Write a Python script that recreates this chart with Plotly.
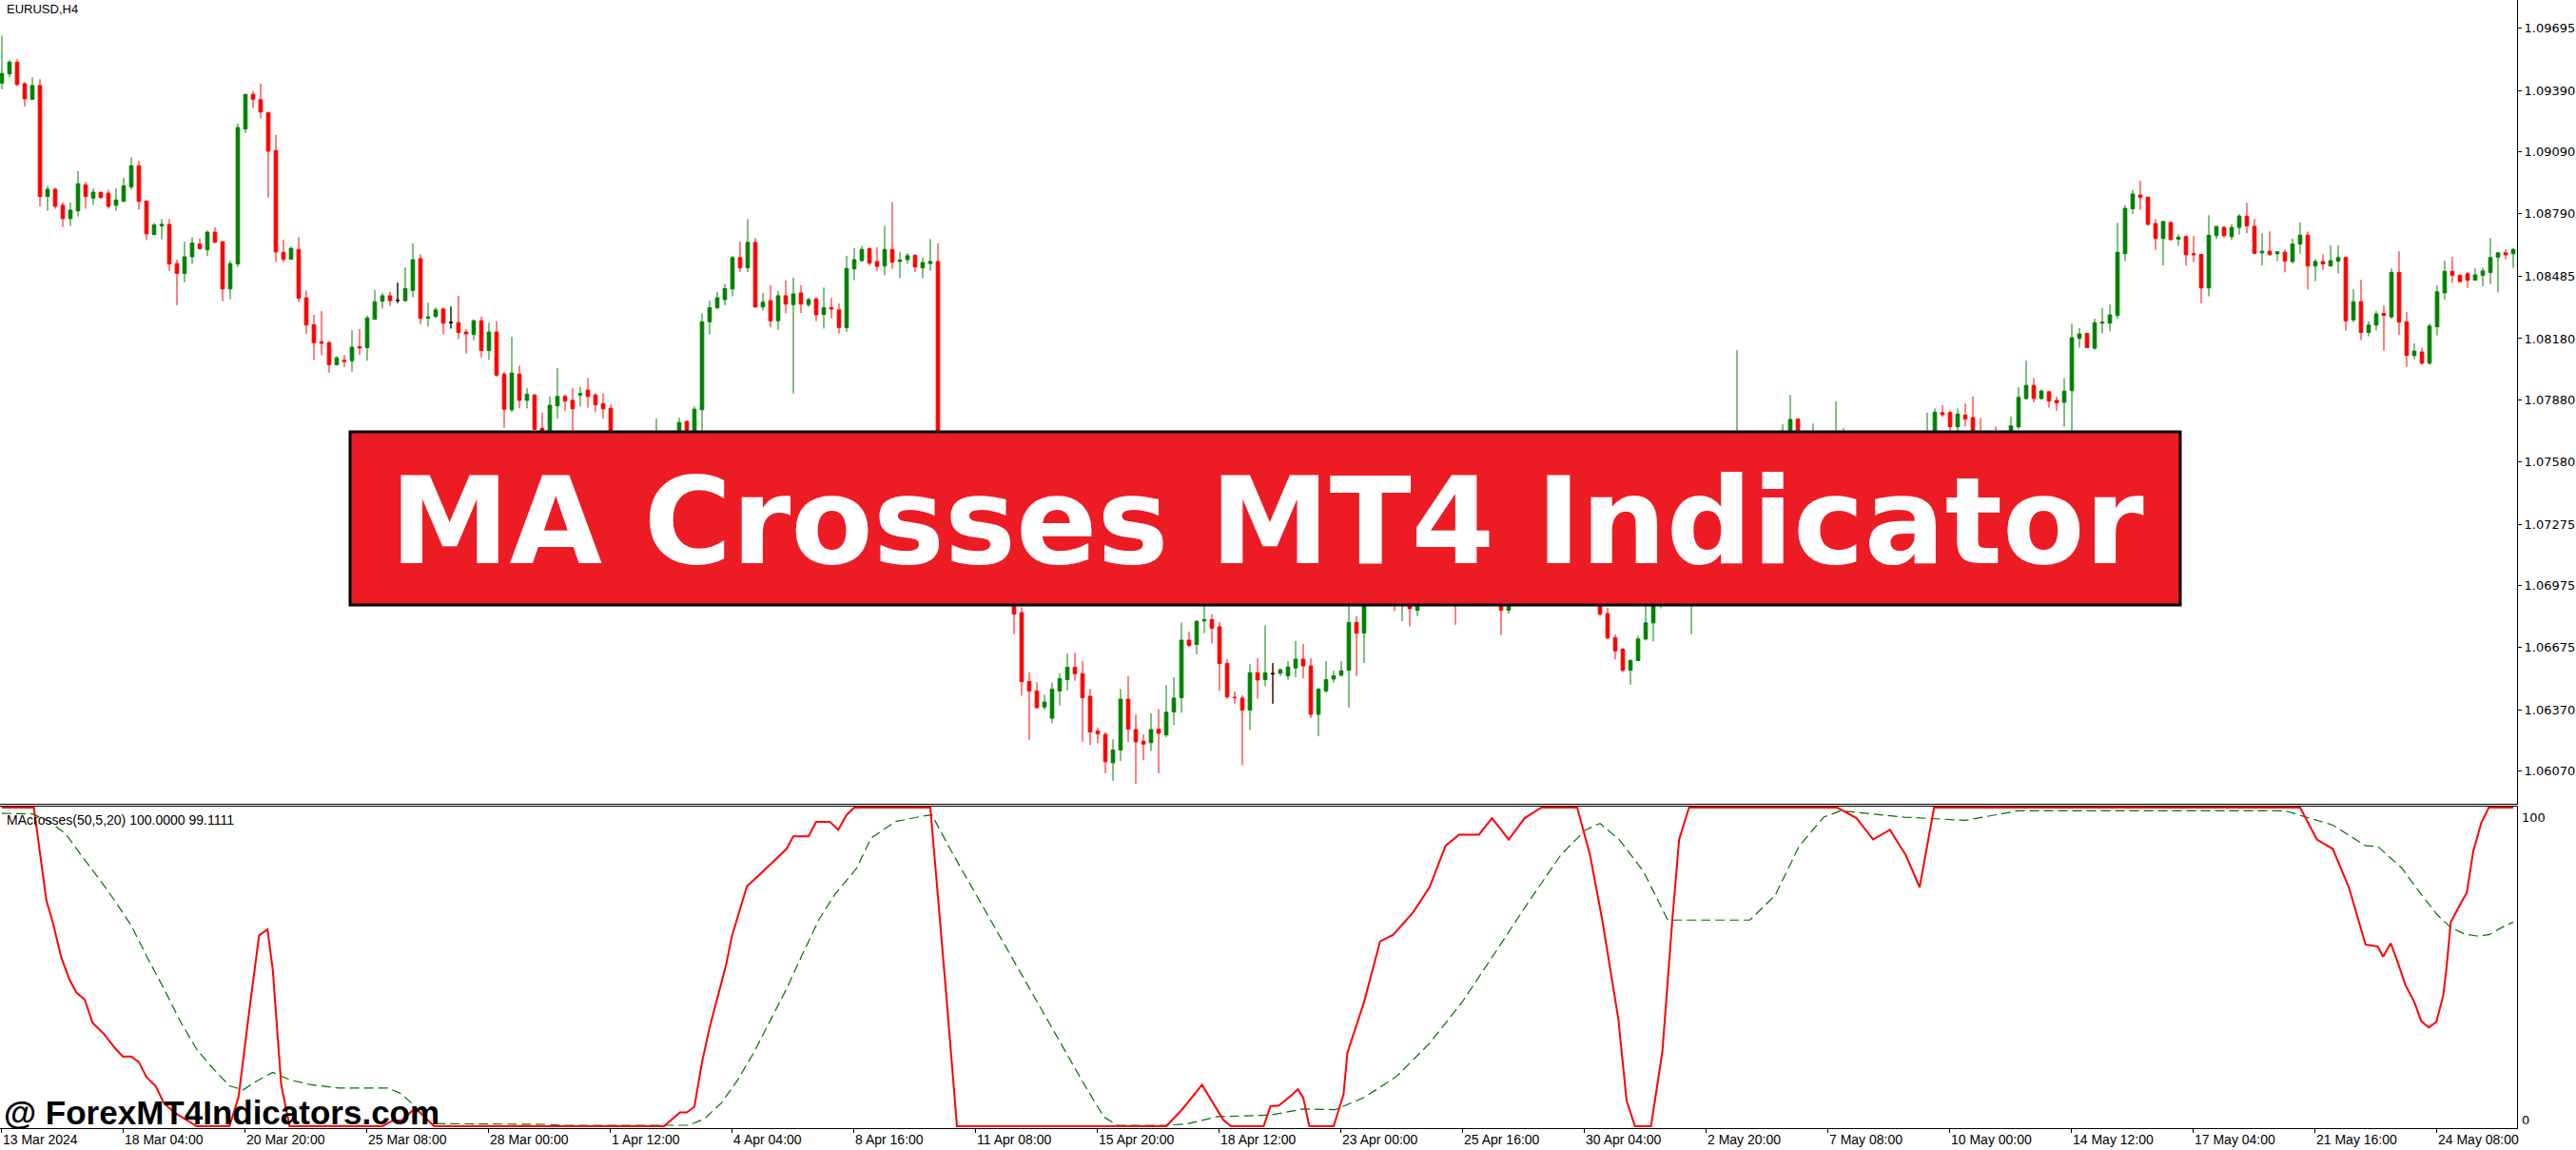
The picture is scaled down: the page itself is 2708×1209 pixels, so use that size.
import plotly.graph_objects as go

W, H = 2708, 1209
ML, MR, MT, MB = 0, 62, 0, 23
PW, PH = W - ML - MR, H - MT - MB

def px_x(x):
    return x / PW

def px_y(y):
    return (PH - y) / PH

# ---------------- price data (EURUSD H4) ----------------
bars = list(range(331))

open_ = [
 1.09426, 1.09471, 1.09528, 1.09423, 1.09347, 1.09414, 1.08873, 1.08908, 1.08830, 1.08765,
 1.08803, 1.08930, 1.08865, 1.08892, 1.08889, 1.08830, 1.08849, 1.08920, 1.09023, 1.08851,
 1.08687, 1.08730, 1.08737, 1.08546, 1.08498, 1.08579, 1.08641, 1.08613, 1.08699, 1.08653,
 1.08422, 1.08544, 1.09202, 1.09371, 1.09345, 1.09283, 1.09097, 1.08601, 1.08567, 1.08615,
 1.08379, 1.08248, 1.08165, 1.08160, 1.08053, 1.08074, 1.08072, 1.08141, 1.08136, 1.08274,
 1.08362, 1.08389, 1.08367, 1.08365, 1.08415, 1.08570, 1.08279, 1.08288, 1.08324, 1.08258,
 1.08258, 1.08212, 1.08200, 1.08267, 1.08122, 1.08212, 1.08007, 1.07833, 1.08007, 1.07879,
 1.07905, 1.07743, 1.07700, 1.07852, 1.07898, 1.07879, 1.07905, 1.07929, 1.07905, 1.07862,
 1.07840, 1.07630, 1.07560, 1.07480, 1.07550, 1.07500, 1.07600, 1.07680, 1.07620, 1.07660,
 1.07776, 1.07690, 1.07833, 1.08262, 1.08331, 1.08370, 1.08422, 1.08575, 1.08525, 1.08649,
 1.08334, 1.08365, 1.08267, 1.08389, 1.08346, 1.08403, 1.08346, 1.08374, 1.08298, 1.08331,
 1.08320, 1.08234, 1.08520, 1.08560, 1.08618, 1.08556, 1.08534, 1.08615, 1.08556, 1.08565,
 1.08587, 1.08525, 1.08546, 1.08556, 1.07350, 1.07220, 1.07150, 1.07200, 1.07160, 1.07060,
 1.07120, 1.07080, 1.07020, 1.07000, 1.06844, 1.06508, 1.06462, 1.06384, 1.06329, 1.06462,
 1.06517, 1.06577, 1.06546, 1.06436, 1.06267, 1.06250, 1.06112, 1.06174, 1.06422, 1.06274,
 1.06217, 1.06210, 1.06276, 1.06248, 1.06360, 1.06429, 1.06710, 1.06689, 1.06803, 1.06810,
 1.06775, 1.06596, 1.06431, 1.06427, 1.06369, 1.06551, 1.06517, 1.06546, 1.06548, 1.06536,
 1.06574, 1.06617, 1.06584, 1.06348, 1.06462, 1.06520, 1.06539, 1.06563, 1.06796, 1.06744,
 1.06920, 1.06960, 1.06930, 1.06990, 1.06900, 1.06950, 1.06856, 1.06950, 1.07020, 1.07060,
 1.07010, 1.06980, 1.06950, 1.07000, 1.07050, 1.07030, 1.06990, 1.06980, 1.06856, 1.06960,
 1.07020, 1.07090, 1.07150, 1.07120, 1.07170, 1.07130, 1.07080, 1.07030, 1.06990, 1.06940,
 1.06920, 1.06839, 1.06722, 1.06665, 1.06563, 1.06610, 1.06715, 1.06794, 1.06920, 1.06960,
 1.07010, 1.06990, 1.06930, 1.07060, 1.07120, 1.07220, 1.07300, 1.07380, 1.07440, 1.07560,
 1.07480, 1.07550, 1.07640, 1.07600, 1.07650, 1.07700, 1.07788, 1.07700, 1.07650, 1.07700,
 1.07660, 1.07620, 1.07700, 1.07640, 1.07600, 1.07650, 1.07620, 1.07580, 1.07610, 1.07660,
 1.07640, 1.07670, 1.07690, 1.07680, 1.07710, 1.07819, 1.07819, 1.07750, 1.07807, 1.07795,
 1.07700, 1.07640, 1.07680, 1.07650, 1.07700, 1.07750, 1.07888, 1.07952, 1.07888, 1.07921,
 1.07879, 1.07869, 1.07926, 1.08181, 1.08205, 1.08133, 1.08255, 1.08255, 1.08293, 1.08594,
 1.08813, 1.08880, 1.08870, 1.08741, 1.08668, 1.08746, 1.08665, 1.08677, 1.08594, 1.08591,
 1.08427, 1.08682, 1.08722, 1.08677, 1.08722, 1.08777, 1.08727, 1.08598, 1.08606, 1.08594,
 1.08601, 1.08556, 1.08641, 1.08684, 1.08534, 1.08556, 1.08534, 1.08558, 1.08575, 1.08272,
 1.08360, 1.08210, 1.08246, 1.08303, 1.08286, 1.08503, 1.08262, 1.08098, 1.08115, 1.08060,
 1.08238, 1.08403, 1.08508, 1.08489, 1.08496, 1.08465, 1.08489, 1.08503, 1.08577, 1.08598,
 1.08594,
]

high = [
 1.09657, 1.09538, 1.09543, 1.09430, 1.09454, 1.09445, 1.08925, 1.08916, 1.08844, 1.08844,
 1.08997, 1.08944, 1.08913, 1.08899, 1.08906, 1.08913, 1.08963, 1.09063, 1.09047, 1.08851,
 1.08744, 1.08763, 1.08763, 1.08565, 1.08653, 1.08675, 1.08668, 1.08708, 1.08722, 1.08653,
 1.08560, 1.09228, 1.09371, 1.09388, 1.09423, 1.09283, 1.09173, 1.08663, 1.08629, 1.08675,
 1.08415, 1.08296, 1.08315, 1.08169, 1.08095, 1.08100, 1.08222, 1.08227, 1.08293, 1.08417,
 1.08403, 1.08408, 1.08453, 1.08527, 1.08644, 1.08591, 1.08355, 1.08334, 1.08331, 1.08336,
 1.08389, 1.08227, 1.08274, 1.08286, 1.08258, 1.08265, 1.08019, 1.08188, 1.08048, 1.07938,
 1.07909, 1.07819, 1.07898, 1.08036, 1.07909, 1.07938, 1.07945, 1.07988, 1.07914, 1.07914,
 1.07859, 1.07700, 1.07650, 1.07600, 1.07620, 1.07680, 1.07790, 1.07710, 1.07731, 1.07795,
 1.07781, 1.07850, 1.08303, 1.08365, 1.08408, 1.08446, 1.08584, 1.08653, 1.08763, 1.08670,
 1.08403, 1.08441, 1.08413, 1.08463, 1.08477, 1.08441, 1.08379, 1.08381, 1.08429, 1.08379,
 1.08351, 1.08584, 1.08622, 1.08632, 1.08625, 1.08625, 1.08730, 1.08846, 1.08603, 1.08598,
 1.08587, 1.08575, 1.08665, 1.08645, 1.07450, 1.07300, 1.07260, 1.07280, 1.07220, 1.07180,
 1.07200, 1.07150, 1.07100, 1.07050, 1.06870, 1.06553, 1.06505, 1.06443, 1.06503, 1.06548,
 1.06644, 1.06648, 1.06608, 1.06472, 1.06284, 1.06260, 1.06226, 1.06472, 1.06534, 1.06348,
 1.06250, 1.06353, 1.06374, 1.06491, 1.06529, 1.06796, 1.06751, 1.06808, 1.06880, 1.06837,
 1.06799, 1.06617, 1.06460, 1.06441, 1.06594, 1.06622, 1.06782, 1.06598, 1.06572, 1.06608,
 1.06706, 1.06691, 1.06622, 1.06479, 1.06608, 1.06560, 1.06608, 1.06900, 1.06827, 1.06960,
 1.07000, 1.07050, 1.07020, 1.07050, 1.06980, 1.07000, 1.07000, 1.07050, 1.07100, 1.07120,
 1.07080, 1.07030, 1.07040, 1.07080, 1.07110, 1.07090, 1.07060, 1.07020, 1.07010, 1.07050,
 1.07120, 1.07180, 1.07220, 1.07200, 1.07230, 1.07190, 1.07150, 1.07100, 1.07060, 1.07010,
 1.06950, 1.06868, 1.06737, 1.06672, 1.06617, 1.06732, 1.06880, 1.06960, 1.07000, 1.07050,
 1.07080, 1.07060, 1.07100, 1.07150, 1.07250, 1.07350, 1.07420, 1.07480, 1.08124, 1.07731,
 1.07600, 1.07680, 1.07700, 1.07690, 1.07762, 1.07905, 1.07790, 1.07720, 1.07766, 1.07720,
 1.07710, 1.07874, 1.07743, 1.07700, 1.07680, 1.07710, 1.07680, 1.07650, 1.07690, 1.07710,
 1.07700, 1.07720, 1.07720, 1.07819, 1.07840, 1.07855, 1.07830, 1.07840, 1.07864, 1.07898,
 1.07793, 1.07710, 1.07752, 1.07733, 1.07800, 1.07943, 1.08072, 1.07988, 1.07933, 1.07924,
 1.07898, 1.07988, 1.08253, 1.08231, 1.08207, 1.08277, 1.08329, 1.08346, 1.08744, 1.08830,
 1.08904, 1.08949, 1.08870, 1.08763, 1.08751, 1.08753, 1.08689, 1.08684, 1.08680, 1.08591,
 1.08782, 1.08727, 1.08730, 1.08739, 1.08787, 1.08842, 1.08763, 1.08694, 1.08703, 1.08606,
 1.08615, 1.08668, 1.08746, 1.08701, 1.08567, 1.08591, 1.08634, 1.08634, 1.08579, 1.08420,
 1.08467, 1.08265, 1.08315, 1.08341, 1.08522, 1.08606, 1.08310, 1.08157, 1.08136, 1.08253,
 1.08439, 1.08560, 1.08579, 1.08491, 1.08505, 1.08522, 1.08525, 1.08670, 1.08603, 1.08615,
 1.08620,
]

low = [
 1.09395, 1.09454, 1.09411, 1.09311, 1.09347, 1.08825, 1.08803, 1.08813, 1.08725, 1.08730,
 1.08775, 1.08813, 1.08832, 1.08863, 1.08813, 1.08803, 1.08849, 1.08906, 1.08808, 1.08660,
 1.08687, 1.08665, 1.08510, 1.08343, 1.08455, 1.08544, 1.08617, 1.08582, 1.08644, 1.08362,
 1.08372, 1.08529, 1.09183, 1.09304, 1.09254, 1.08868, 1.08553, 1.08553, 1.08567, 1.08358,
 1.08203, 1.08076, 1.08098, 1.08014, 1.08048, 1.08041, 1.08019, 1.08100, 1.08072, 1.08274,
 1.08327, 1.08339, 1.08353, 1.08360, 1.08382, 1.08250, 1.08238, 1.08279, 1.08200, 1.08229,
 1.08177, 1.08107, 1.08172, 1.08088, 1.08076, 1.07993, 1.07745, 1.07821, 1.07840, 1.07840,
 1.07733, 1.07650, 1.07620, 1.07790, 1.07826, 1.07726, 1.07848, 1.07843, 1.07821, 1.07790,
 1.07600, 1.07520, 1.07430, 1.07400, 1.07440, 1.07460, 1.07550, 1.07580, 1.07560, 1.07620,
 1.07660, 1.07650, 1.07700, 1.08200, 1.08322, 1.08343, 1.08386, 1.08505, 1.08505, 1.08331,
 1.08317, 1.08234, 1.08222, 1.08303, 1.07912, 1.08305, 1.08334, 1.08265, 1.08229, 1.08279,
 1.08205, 1.08212, 1.08465, 1.08556, 1.08536, 1.08510, 1.08489, 1.08520, 1.08475, 1.08544,
 1.08505, 1.08475, 1.08510, 1.07300, 1.07180, 1.07100, 1.07080, 1.07120, 1.07020, 1.07000,
 1.07040, 1.06980, 1.06960, 1.06739, 1.06439, 1.06224, 1.06374, 1.06369, 1.06305, 1.06391,
 1.06465, 1.06512, 1.06214, 1.06198, 1.06207, 1.06060, 1.06024, 1.06121, 1.06212, 1.06009,
 1.06124, 1.06169, 1.06060, 1.06236, 1.06296, 1.06355, 1.06677, 1.06641, 1.06744, 1.06694,
 1.06462, 1.06422, 1.06400, 1.06100, 1.06272, 1.06424, 1.06486, 1.06400, 1.06534, 1.06517,
 1.06529, 1.06524, 1.06329, 1.06241, 1.06453, 1.06503, 1.06532, 1.06381, 1.06534, 1.06598,
 1.06890, 1.06900, 1.06890, 1.06851, 1.06803, 1.06777, 1.06827, 1.06900, 1.06960, 1.06990,
 1.06940, 1.06784, 1.06910, 1.06950, 1.06990, 1.06960, 1.06930, 1.06734, 1.06839, 1.06920,
 1.06980, 1.07040, 1.07080, 1.07050, 1.07090, 1.07040, 1.07000, 1.06960, 1.06920, 1.06900,
 1.06827, 1.06715, 1.06615, 1.06553, 1.06493, 1.06610, 1.06708, 1.06703, 1.06865, 1.06910,
 1.06950, 1.06920, 1.06739, 1.07010, 1.07080, 1.07180, 1.07250, 1.07320, 1.07400, 1.07420,
 1.07430, 1.07500, 1.07560, 1.07540, 1.07600, 1.07650, 1.07640, 1.07600, 1.07610, 1.07620,
 1.07580, 1.07580, 1.07590, 1.07570, 1.07540, 1.07590, 1.07550, 1.07520, 1.07560, 1.07600,
 1.07580, 1.07610, 1.07630, 1.07640, 1.07680, 1.07797, 1.07726, 1.07700, 1.07750, 1.07650,
 1.07600, 1.07580, 1.07600, 1.07610, 1.07660, 1.07738, 1.07881, 1.07869, 1.07881, 1.07843,
 1.07828, 1.07750, 1.07726, 1.08136, 1.08136, 1.08126, 1.08205, 1.08215, 1.08277, 1.08558,
 1.08787, 1.08808, 1.08730, 1.08613, 1.08536, 1.08656, 1.08632, 1.08536, 1.08553, 1.08353,
 1.08386, 1.08665, 1.08672, 1.08660, 1.08687, 1.08694, 1.08591, 1.08536, 1.08582, 1.08558,
 1.08503, 1.08546, 1.08594, 1.08420, 1.08460, 1.08515, 1.08532, 1.08498, 1.08219, 1.08260,
 1.08172, 1.08191, 1.08219, 1.08122, 1.08277, 1.08198, 1.08043, 1.08079, 1.08053, 1.08053,
 1.08196, 1.08370, 1.08453, 1.08455, 1.08427, 1.08465, 1.08436, 1.08446, 1.08405, 1.08567,
 1.08525,
]

close = [
 1.09473, 1.09528, 1.09419, 1.09349, 1.09414, 1.08873, 1.08908, 1.08825, 1.08765, 1.08806,
 1.08935, 1.08873, 1.08894, 1.08868, 1.08825, 1.08856, 1.08925, 1.09023, 1.08849, 1.08691,
 1.08734, 1.08737, 1.08544, 1.08498, 1.08579, 1.08646, 1.08618, 1.08699, 1.08651, 1.08422,
 1.08546, 1.09209, 1.09371, 1.09347, 1.09285, 1.09094, 1.08603, 1.08567, 1.08620, 1.08377,
 1.08246, 1.08160, 1.08157, 1.08053, 1.08086, 1.08069, 1.08138, 1.08134, 1.08281, 1.08360,
 1.08389, 1.08365, 1.08367, 1.08424, 1.08565, 1.08279, 1.08286, 1.08320, 1.08255, 1.08258,
 1.08210, 1.08203, 1.08267, 1.08122, 1.08212, 1.08002, 1.07836, 1.08012, 1.07879, 1.07909,
 1.07738, 1.07700, 1.07855, 1.07898, 1.07876, 1.07838, 1.07912, 1.07898, 1.07857, 1.07838,
 1.07630, 1.07560, 1.07480, 1.07550, 1.07500, 1.07600, 1.07680, 1.07620, 1.07650, 1.07771,
 1.07690, 1.07836, 1.08262, 1.08331, 1.08379, 1.08424, 1.08575, 1.08525, 1.08649, 1.08334,
 1.08358, 1.08267, 1.08389, 1.08348, 1.08398, 1.08348, 1.08370, 1.08296, 1.08331, 1.08324,
 1.08234, 1.08522, 1.08565, 1.08615, 1.08548, 1.08532, 1.08615, 1.08553, 1.08563, 1.08584,
 1.08529, 1.08551, 1.08556, 1.07350, 1.07220, 1.07150, 1.07200, 1.07160, 1.07060, 1.07120,
 1.07080, 1.07020, 1.07000, 1.06837, 1.06508, 1.06462, 1.06381, 1.06408, 1.06470, 1.06522,
 1.06577, 1.06546, 1.06429, 1.06262, 1.06253, 1.06117, 1.06174, 1.06422, 1.06276, 1.06214,
 1.06203, 1.06274, 1.06255, 1.06358, 1.06427, 1.06710, 1.06684, 1.06801, 1.06810, 1.06768,
 1.06596, 1.06434, 1.06429, 1.06369, 1.06551, 1.06515, 1.06551, 1.06546, 1.06565, 1.06579,
 1.06617, 1.06584, 1.06348, 1.06470, 1.06517, 1.06536, 1.06560, 1.06796, 1.06744, 1.06920,
 1.06960, 1.06930, 1.06990, 1.06900, 1.06950, 1.06863, 1.06950, 1.07020, 1.07060, 1.07010,
 1.06980, 1.06950, 1.07000, 1.07050, 1.07030, 1.06990, 1.06980, 1.06856, 1.06960, 1.07020,
 1.07090, 1.07150, 1.07120, 1.07170, 1.07130, 1.07080, 1.07030, 1.06990, 1.06940, 1.06920,
 1.06837, 1.06720, 1.06658, 1.06563, 1.06610, 1.06715, 1.06794, 1.06920, 1.06960, 1.07010,
 1.06990, 1.06970, 1.07060, 1.07120, 1.07220, 1.07300, 1.07380, 1.07440, 1.07560, 1.07480,
 1.07550, 1.07640, 1.07600, 1.07650, 1.07700, 1.07786, 1.07700, 1.07650, 1.07700, 1.07660,
 1.07620, 1.07700, 1.07640, 1.07600, 1.07650, 1.07620, 1.07580, 1.07610, 1.07660, 1.07640,
 1.07670, 1.07690, 1.07680, 1.07710, 1.07821, 1.07809, 1.07750, 1.07812, 1.07788, 1.07700,
 1.07640, 1.07680, 1.07650, 1.07700, 1.07754, 1.07893, 1.07952, 1.07888, 1.07924, 1.07876,
 1.07867, 1.07924, 1.08184, 1.08203, 1.08136, 1.08258, 1.08260, 1.08296, 1.08601, 1.08815,
 1.08885, 1.08868, 1.08737, 1.08668, 1.08751, 1.08663, 1.08675, 1.08589, 1.08589, 1.08427,
 1.08684, 1.08727, 1.08682, 1.08722, 1.08777, 1.08730, 1.08596, 1.08606, 1.08591, 1.08603,
 1.08558, 1.08641, 1.08684, 1.08534, 1.08556, 1.08544, 1.08560, 1.08575, 1.08267, 1.08360,
 1.08210, 1.08246, 1.08300, 1.08293, 1.08503, 1.08260, 1.08098, 1.08119, 1.08060, 1.08241,
 1.08408, 1.08508, 1.08489, 1.08458, 1.08465, 1.08491, 1.08510, 1.08575, 1.08598, 1.08589,
 1.08615,
]

doji_bars = [52, 59, 167]

price_ticks = [1.09695, 1.09390, 1.09090, 1.08790, 1.08485, 1.08180, 1.07880,
               1.07580, 1.07275, 1.06975, 1.06675, 1.06370, 1.06070]
price_tick_text = ["1.09695", "1.09390", "1.09090", "1.08790", "1.08485", "1.08180", "1.07880",
                   "1.07580", "1.07275", "1.06975", "1.06675", "1.06370", "1.06070"]

time_tick_bars = [0, 16, 32, 48, 64, 80, 96, 112, 128, 144, 160, 176, 192, 208, 224, 240, 256, 272, 288, 304, 320]
time_tick_text = ["13 Mar 2024", "18 Mar 04:00", "20 Mar 20:00", "25 Mar 08:00", "28 Mar 00:00",
                  "1 Apr 12:00", "4 Apr 04:00", "8 Apr 16:00", "11 Apr 08:00", "15 Apr 20:00",
                  "18 Apr 12:00", "23 Apr 00:00", "25 Apr 16:00", "30 Apr 04:00", "2 May 20:00",
                  "7 May 08:00", "10 May 00:00", "14 May 12:00", "17 May 04:00", "21 May 16:00",
                  "24 May 08:00"]

# ---------------- MAcrosses indicator (key points) ----------------
red_x = [0, 4.2, 5.85, 6.7, 7.8, 8.9, 9.8, 10.9, 11.9, 13.4, 15, 15.9, 17, 18, 19, 20.2, 21.3, 22.7,
         24.1, 25.6, 29.9, 31.1, 32.6, 33.8, 34.9, 35.6, 36.7, 37.8, 50, 51.4, 52.5, 54.3, 56.8,
         87, 89.1, 90, 91, 92, 93, 94.1, 95.2, 95.9, 97, 97.9, 99.5, 101.3, 103.1, 104, 106, 107,
         108.8, 109.9, 111, 112, 122, 124, 125.5, 153, 155, 157.7, 159, 160.5, 161.5, 165.8,
         166.7, 167.8, 169.6, 170.3, 171, 171.8, 175, 176.3, 176.8, 179, 181.1, 182.8, 185.4,
         187.6, 189.7, 191.5, 194.1, 195.8, 198, 200.1, 202.3, 207, 208.7, 210.3, 212.4, 213.5,
         214.6, 216.7, 218.2, 219.5, 220.4, 221.7, 241.2, 243.7, 245.9, 248.1, 250.2, 252, 253.9,
         302, 304.2, 306.3, 308.4, 310.6, 312.2, 312.9, 313.9, 314.75, 315.8, 317, 317.9, 318.9,
         319.9, 320.8, 321.2, 321.5, 321.8, 322.9, 323.9, 324.75, 325.8, 326.8, 330]
red_y = [100, 100, 70.8, 63.9, 53, 45.9, 41.9, 39.7, 32.5, 29, 24.1, 21.9, 21.9, 20.1, 15.4, 12.6, 7.2, 4.2,
         2.2, 0, 0, 9.2, 38, 59.9, 61.8, 48.9, 13.1, 0, 0, 1.8, 1.8, 5.7, 0,
         0, 4.3, 4.3, 6.1, 20.1, 31, 41, 51, 59.4, 67.8, 75.3, 78.8, 82.8, 87, 91, 91, 95.5,
         95.5, 93, 97.7, 100, 100, 44, 0, 0, 5, 13, 8, 2, 0, 0,
         6.3, 6.5, 10, 11.6, 9, 0, 0, 10, 23, 39, 58, 60, 67,
         75, 88, 91.5, 91.5, 96.7, 90, 96.7, 100, 100, 85, 64.7, 33.8, 8,
         0, 0, 23.5, 64.7, 90, 100, 100, 96.7, 90, 93, 85, 75, 100,
         100, 90, 87, 75, 57, 56.4, 53.2, 57.4, 52, 44.5, 39, 33, 31,
         32.7, 41, 49, 57, 64, 69, 73.3, 86.3, 95.2, 100, 100]

green_x = [0, 4, 6.2, 8.4, 10.5, 12.7, 14.8, 17, 19.1, 21.3, 23.4, 25.6, 27.7, 29.9, 31.7, 33.5, 35.6,
           37.8, 40.6, 44.2, 50.7, 52.5, 54.3, 56.4, 71.5, 73.7, 90.2, 92.3, 94.5, 96.6, 98.8, 100.9,
           103.1, 105.2, 107.4, 109.5, 112.3, 114.2, 117.4, 120.7, 122.2, 125, 129.3, 133.6, 137.9,
           142.2, 144.8, 146.6, 153, 155.7, 159.7, 166.7, 171, 175.2, 179, 183.3, 187.6, 191.9,
           196.2, 200.5, 204.9, 208.1, 210, 212.5, 215.7, 218.9, 229.7, 233, 236.2, 239.4, 241.6,
           250, 258, 265, 300, 306.3, 310.6, 312.2, 315.4, 317.7, 320, 321.8, 323.5, 325.2, 326.8,
           328.9, 330]
green_y = [98.2, 98, 95.7, 91.7, 84.8, 77.9, 70.9, 63, 53, 43.1, 33.1, 24.1, 18.2, 12.7, 11.4, 14.2, 16.9,
           14.6, 13, 12, 12, 10.2, 6.2, 0.8, 0.6, 0.3, 0.3, 2.3, 7.2, 14.2, 23.1, 33.1,
           43.1, 54, 65, 72.9, 80.9, 90.4, 95.6, 97.2, 97.7, 85.3, 67.3, 49.2, 31.2,
           13.2, 2.9, 0.3, 0.3, 0.7, 3, 3.5, 5.4, 5.2, 9, 15.7, 26, 39,
           54.4, 70, 85.3, 93, 95, 90, 80, 64.7, 64.7, 72.4, 88, 97, 99,
           97, 96, 99, 99, 94.5, 88, 87.8, 80.9, 73.4, 66.4, 62.4, 60.4, 59.7, 60.1,
           62.9, 64]

GREEN = "#008000"
RED = "#FF0000"

fig = go.Figure()

fig.add_trace(go.Candlestick(
    x=bars, open=open_, high=high, low=low, close=close,
    increasing=dict(line=dict(color=GREEN, width=1), fillcolor=GREEN),
    decreasing=dict(line=dict(color=RED, width=1), fillcolor=RED),
    whiskerwidth=0, hoverinfo="skip", showlegend=False, xaxis="x", yaxis="y"))

fig.add_trace(go.Candlestick(
    x=doji_bars,
    open=[open_[i] for i in doji_bars], high=[high[i] for i in doji_bars],
    low=[low[i] for i in doji_bars], close=[close[i] for i in doji_bars],
    increasing=dict(line=dict(color="black", width=1), fillcolor="black"),
    decreasing=dict(line=dict(color="black", width=1), fillcolor="black"),
    whiskerwidth=0, hoverinfo="skip", showlegend=False, xaxis="x", yaxis="y"))

fig.add_trace(go.Scatter(x=green_x, y=green_y, mode="lines",
                         line=dict(color="#007000", width=1.2, dash="10px,5px"),
                         hoverinfo="skip", showlegend=False, xaxis="x2", yaxis="y2"))
fig.add_trace(go.Scatter(x=red_x, y=red_y, mode="lines",
                         line=dict(color=RED, width=2),
                         hoverinfo="skip", showlegend=False, xaxis="x2", yaxis="y2"))

XR = [-0.25, 330.5]
main_bottom = 845
ind_top = 848

annotations = []
annotations.append(dict(x=px_x(5), y=px_y(10), xref="paper", yref="paper", xanchor="left", yanchor="middle",
                        text="EURUSD,H4", showarrow=False,
                        font=dict(family="Liberation Sans", size=13, color="black")))
annotations.append(dict(x=px_x(5), y=px_y(862), xref="paper", yref="paper", xanchor="left", yanchor="middle",
                        text="MAcrosses(50,5,20) 100.0000 99.1111", showarrow=False,
                        font=dict(family="Liberation Sans", size=14, color="black")))
annotations.append(dict(x=px_x(2649), y=px_y(859), xref="paper", yref="paper", xanchor="left", yanchor="middle",
                        text="100", showarrow=False,
                        font=dict(family="DejaVu Sans", size=13, color="black")))
annotations.append(dict(x=px_x(2649), y=px_y(1177), xref="paper", yref="paper", xanchor="left", yanchor="middle",
                        text="0", showarrow=False,
                        font=dict(family="DejaVu Sans", size=13, color="black")))
for b, t in zip(time_tick_bars, time_tick_text):
    annotations.append(dict(x=b, y=px_y(1198), xref="x2", yref="paper", xanchor="left", yanchor="middle",
                            text=t, showarrow=False, xshift=-1,
                            font=dict(family="Liberation Sans", size=14, color="black")))
annotations.append(dict(x=px_x(1332), y=px_y(548), xref="paper", yref="paper", xanchor="center", yanchor="middle",
                        text="<b>MA Crosses MT4 Indicator</b>", showarrow=False,
                        font=dict(family="DejaVu Sans", size=126, color="white")))
annotations.append(dict(x=px_x(2), y=px_y(1169), xref="paper", yref="paper", xanchor="left", yanchor="middle",
                        text="<b>@ ForexMT4Indicators.com</b>", showarrow=False,
                        font=dict(family="Liberation Sans", size=35, color="black")))

shapes = [dict(type="rect", xref="paper", yref="paper",
               x0=px_x(368), x1=px_x(2292), y0=px_y(636), y1=px_y(454),
               fillcolor="#ED1C24", line=dict(color="black", width=3), layer="above")]

fig.update_layout(
    width=W, height=H,
    margin=dict(l=ML, r=MR, t=MT, b=MB, pad=0),
    paper_bgcolor="white", plot_bgcolor="white",
    showlegend=False, boxgap=0.35,
    xaxis=dict(domain=[0, 1], range=XR, anchor="y", showgrid=False, zeroline=False,
               showticklabels=False, ticks="", showline=True, mirror=True,
               linecolor="black", linewidth=1, rangeslider=dict(visible=False)),
    yaxis=dict(domain=[px_y(main_bottom), 1], range=[1.05912, 1.09831], side="right", anchor="x",
               tickvals=price_ticks, ticktext=price_tick_text, ticks="outside", ticklen=4,
               tickcolor="black", showgrid=False, zeroline=False, showline=True, mirror=True,
               linecolor="black", linewidth=1,
               tickfont=dict(family="DejaVu Sans", size=13, color="black")),
    xaxis2=dict(domain=[0, 1], range=XR, anchor="y2", tickvals=[b - 0.125 for b in time_tick_bars],
                ticks="outside", ticklen=4, tickcolor="black", showticklabels=False,
                showgrid=False, zeroline=False, showline=True, mirror=True,
                linecolor="black", linewidth=1),
    yaxis2=dict(domain=[0, px_y(ind_top)], range=[-0.6, 100.3], side="right", anchor="x2",
                showticklabels=False, showgrid=False, zeroline=False, showline=True, mirror=True,
                linecolor="black", linewidth=1, ticks=""),
    annotations=annotations,
    shapes=shapes,
)

fig.write_html("out.html", config={"displayModeBar": False},
               post_script="document.body.style.margin='0';document.body.style.overflow='hidden';")
